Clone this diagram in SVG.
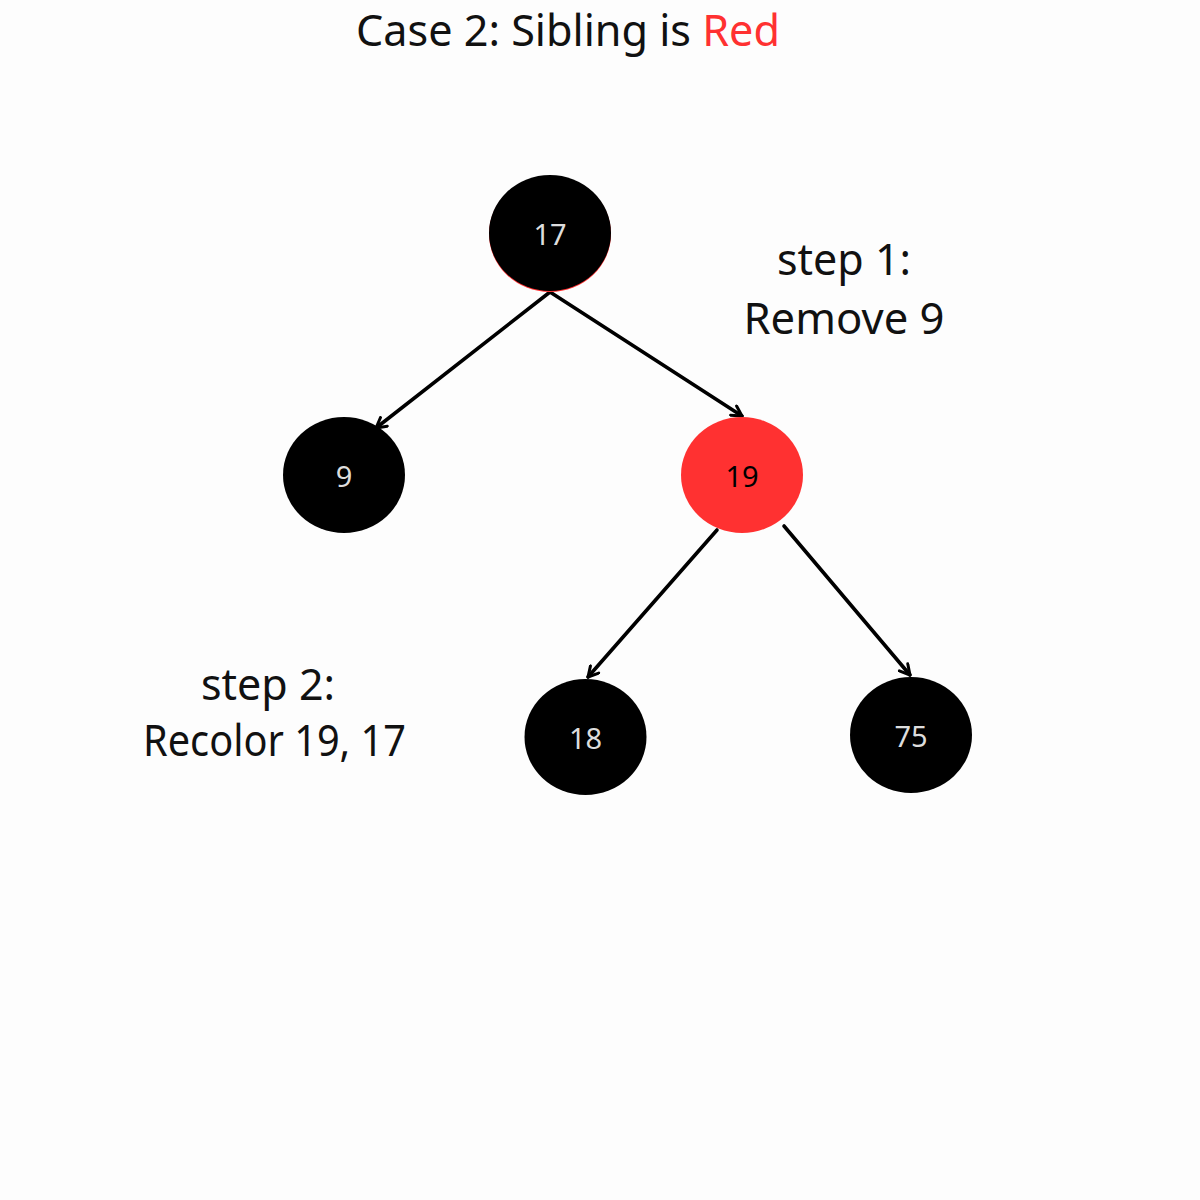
<svg xmlns="http://www.w3.org/2000/svg" width="1200" height="1200" viewBox="0 0 1200 1200">
<style>
.big{font-family:"Noto Sans","Open Sans","Liberation Sans",sans-serif;font-size:43px;fill:#111;text-anchor:middle}
.lbl{font-family:"Noto Sans","Open Sans","Liberation Sans",sans-serif;font-size:29px;text-anchor:middle;dominant-baseline:central}
.blk{fill:#000}
.red{fill:#ff3131}
.edge{stroke:#000;stroke-width:3.6;fill:none;stroke-linecap:round}
</style>
<defs>
<marker id="arr" viewBox="0 0 14 14" refX="12" refY="7" markerWidth="14" markerHeight="14" markerUnits="userSpaceOnUse" orient="auto">
<polyline points="2,1.5 12,7 2,12.5" fill="none" stroke="#000" stroke-width="3" stroke-linecap="round" stroke-linejoin="round"/>
</marker>
</defs>
<rect width="1200" height="1200" fill="#fdfdfd"/>
<text class="big" x="568" y="46" textLength="424" lengthAdjust="spacingAndGlyphs">Case 2: Sibling is <tspan fill="#ff3131">Red</tspan></text>
<g id="connectors">
<line class="edge" x1="550" y1="292" x2="376" y2="428" marker-end="url(#arr)"/>
<line class="edge" x1="550" y1="292" x2="742" y2="416" marker-end="url(#arr)"/>
<line class="edge" x1="717" y1="530" x2="588" y2="677" marker-end="url(#arr)"/>
<line class="edge" x1="784" y1="526" x2="910" y2="675" marker-end="url(#arr)"/>
</g>
<g id="n17">
<ellipse cx="550" cy="234" rx="61" ry="58" fill="#ff3131"/>
<ellipse cx="550" cy="233" rx="61" ry="58" class="blk"/>
<text class="lbl" x="550" y="233" fill="#ddd">17</text>
</g>
<g id="n9">
<ellipse cx="344" cy="475" rx="61" ry="58" class="blk"/>
<text class="lbl" x="344" y="475" fill="#ddd">9</text>
</g>
<g id="n19">
<ellipse cx="742" cy="475" rx="61" ry="58" class="red"/>
<text class="lbl" x="742" y="475" fill="#000">19</text>
</g>
<g id="n18">
<ellipse cx="585.5" cy="737" rx="61" ry="58" class="blk"/>
<text class="lbl" x="585.5" y="737" fill="#ddd">18</text>
</g>
<g id="n75">
<ellipse cx="911" cy="735" rx="61" ry="58" class="blk"/>
<text class="lbl" x="911" y="735" fill="#ddd">75</text>
</g>
<g id="step1">
<text class="big" x="844" y="275">step 1:</text>
<text class="big" x="844" y="334" textLength="201" lengthAdjust="spacingAndGlyphs">Remove 9</text>
</g>
<g id="step2">
<text class="big" x="268" y="700">step 2:</text>
<text class="big" x="274.5" y="756" textLength="263" lengthAdjust="spacingAndGlyphs">Recolor 19, 17</text>
</g>
</svg>
